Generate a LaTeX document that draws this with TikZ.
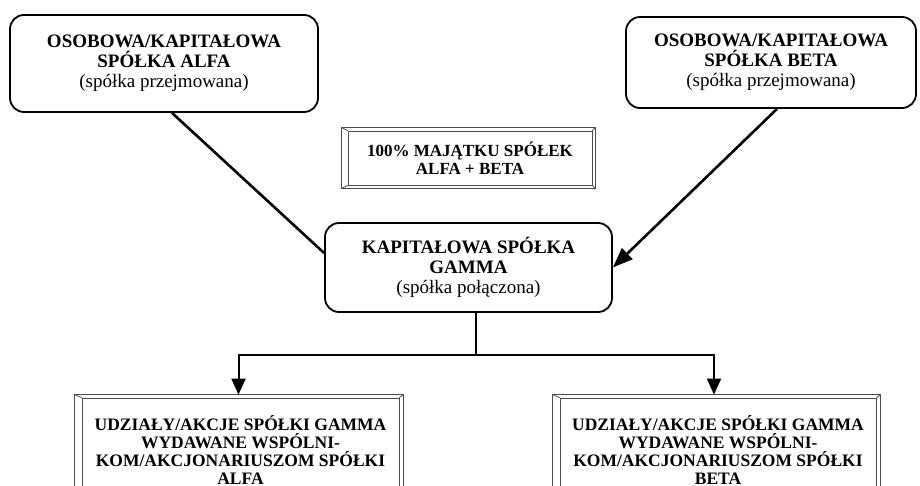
\documentclass[tikz,border=0pt]{standalone}
\usepackage{fontspec}
\setmainfont{Liberation Serif}
\usetikzlibrary{arrows.meta,calc}

\tikzset{
  roundbox/.style={draw=black, line width=1.8pt, rounded corners=14pt, fill=white,
    align=center, inner sep=0pt},
  bevelbox/.style={draw=black!70, line width=0.8pt, fill=white, align=center, inner sep=0pt},
  bevelline/.style={draw=black!70, line width=0.8pt},
  link/.style={line width=2.6pt, draw=black},
  linkarrow/.style={link, -{Triangle[length=20pt,width=15pt]}},
  droparrow/.style={line width=2pt, draw=black, -{Triangle[length=16pt,width=14pt]}},
  bigtext/.style={font=\fontsize{19}{20}\selectfont},
  labeltext/.style={font=\fontsize{17}{18}\selectfont},
  midtext/.style={font=\fontsize{17.5}{18.2}\selectfont},
}

% outer frame of a bevelled box: left, top, right, bottom margins
\newcommand\bevelframe[5]{%
  \draw[bevelline] ($(#1.north west)+(-#2,-#3)$) rectangle ($(#1.south east)+(#4,#5)$);
  \draw[bevelline]
    ($(#1.north west)+(-#2,-#3)$) -- (#1.north west)
    ($(#1.north east)+(#4,-#3)$) -- (#1.north east)
    ($(#1.south west)+(-#2,#5)$) -- (#1.south west)
    ($(#1.south east)+(#4,#5)$) -- (#1.south east);
}

\begin{document}
\begin{tikzpicture}[x=1pt, y=-1pt]
  \clip (0,0) rectangle (920,486);
  \fill[white] (0,0) rectangle (920,486);

  % merging companies
  \node[roundbox, bigtext, minimum width=308pt, minimum height=97pt] (alfa) at (164,63.5)
    {\textbf{OSOBOWA/KAPITAŁOWA}\\ \textbf{SPÓŁKA ALFA}\\ (spółka przejmowana)};
  \node[roundbox, bigtext, minimum width=290pt, minimum height=91pt] (beta) at (771,62.5)
    {\textbf{OSOBOWA/KAPITAŁOWA}\\ \textbf{SPÓŁKA BETA}\\ (spółka przejmowana)};

  % assets label
  \node[bevelbox, labeltext, minimum width=244pt, minimum height=54pt] (assets) at (470,158)
    {\textbf{100\% MAJĄTKU SPÓŁEK}\\ \textbf{ALFA + BETA}};
  \bevelframe{assets}{6}{3}{3}{3}

  % resulting company
  \node[roundbox, bigtext, minimum width=287pt, minimum height=89pt] (gamma) at (468.5,267.5)
    {\textbf{KAPITAŁOWA SPÓŁKA}\\ \textbf{GAMMA}\\ (spółka połączona)};

  % shares issued to partners/shareholders
  \node[bevelbox, midtext, minimum width=317pt, minimum height=104pt] (sharesA) at (240.5,450)
    {\textbf{UDZIAŁY/AKCJE SPÓŁKI GAMMA}\\ \textbf{WYDAWANE WSPÓLNI-}\\
     \textbf{KOM/AKCJONARIUSZOM SPÓŁKI}\\ \textbf{ALFA}};
  \bevelframe{sharesA}{7}{3}{4}{3}
  \node[bevelbox, midtext, minimum width=316pt, minimum height=104pt] (sharesB) at (718,450)
    {\textbf{UDZIAŁY/AKCJE SPÓŁKI GAMMA}\\ \textbf{WYDAWANE WSPÓLNI-}\\
     \textbf{KOM/AKCJONARIUSZOM SPÓŁKI}\\ \textbf{BETA}};
  \bevelframe{sharesB}{7}{3}{4}{3}

  % connectors
  \draw[link] ($(alfa.south)+(8,0)$) -- ($(gamma.west)+(0,-14.5)$);
  \draw[linkarrow] ($(beta.south)+(6,0)$) -- (gamma.east);

  \coordinate (hub) at (476,355);
  \draw[line width=2pt] (gamma.south -| hub) -- (hub);
  \draw[droparrow] (hub) -| ($(sharesA.north)+(-2,-3)$);
  \draw[droparrow] (hub) -| ($(sharesB.north)+(-4,-3)$);
\end{tikzpicture}
\end{document}
